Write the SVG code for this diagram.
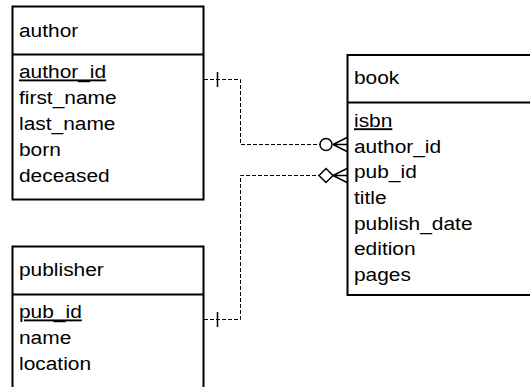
<svg xmlns="http://www.w3.org/2000/svg" width="530" height="387" viewBox="0 0 530 387">
  <style>
    .box { fill: #ffffff; stroke: #000000; stroke-width: 2; }
    .div { stroke: #000000; stroke-width: 2; }
    text { font-family: "Liberation Sans", Arial, sans-serif; font-size: 19px; fill: #000000; }
    .pk { text-decoration: underline; }
    .rel { fill: none; stroke: #000000; stroke-width: 1; stroke-dasharray: 4 2; }
    .sym { fill: #ffffff; stroke: #000000; stroke-width: 1.5; }
    .foot { fill: none; stroke: #000000; stroke-width: 1.5; }
  </style>

  <!-- relationship connectors -->
  <g id="connectors">
    <!-- author.author_id -> book.author_id -->
    <path class="rel" d="M204 79.5 H240.5 V144.5 H320"/>
    <line class="foot" x1="217.5" y1="72" x2="217.5" y2="87"/>
    <circle class="sym" cx="326" cy="144.5" r="6"/>
    <path class="foot" d="M333 144.5 L347 137.5 M333 144.5 L347 144.5 M333 144.5 L347 151.5"/>
    <!-- publisher.pub_id -> book.pub_id -->
    <path class="rel" d="M204 319.5 H240.5 V175.5 H319"/>
    <line class="foot" x1="217.5" y1="312" x2="217.5" y2="327"/>
    <path class="sym" d="M319 175.5 L326 168.5 L333 175.5 L326 182.5 Z"/>
    <path class="foot" d="M333 175.5 L347 168.5 M333 175.5 L347 175.5 M333 175.5 L347 182.5"/>
  </g>

  <g id="author">
    <rect class="box" x="12.5" y="6.5" width="191" height="193"/>
    <line class="div" x1="12.5" y1="54.5" x2="203.5" y2="54.5"/>
    <g transform="translate(19 0) scale(1.1 1)">
      <text x="0" y="37">author</text>
      <text x="0" y="78.5" class="pk">author_id</text>
      <text x="0" y="104.3">first_name</text>
      <text x="0" y="130.1">last_name</text>
      <text x="0" y="155.9">born</text>
      <text x="0" y="181.7">deceased</text>
    </g>
  </g>

  <g id="book">
    <rect class="box" x="347.5" y="55" width="200" height="240"/>
    <line class="div" x1="347.5" y1="102.5" x2="547.5" y2="102.5"/>
    <g transform="translate(354 0) scale(1.1 1)">
      <text x="0" y="84.5">book</text>
      <text x="0" y="127.3" class="pk">isbn</text>
      <text x="0" y="152.9">author_id</text>
      <text x="0" y="178.5">pub_id</text>
      <text x="0" y="204.1">title</text>
      <text x="0" y="229.7">publish_date</text>
      <text x="0" y="255.3">edition</text>
      <text x="0" y="280.9">pages</text>
    </g>
  </g>

  <g id="publisher">
    <rect class="box" x="12.5" y="246.5" width="191" height="160"/>
    <line class="div" x1="12.5" y1="294.5" x2="203.5" y2="294.5"/>
    <g transform="translate(19 0) scale(1.1 1)">
      <text x="0" y="276.5">publisher</text>
      <text x="0" y="318.5" class="pk">pub_id</text>
      <text x="0" y="344.3">name</text>
      <text x="0" y="370.1">location</text>
    </g>
  </g>
</svg>
